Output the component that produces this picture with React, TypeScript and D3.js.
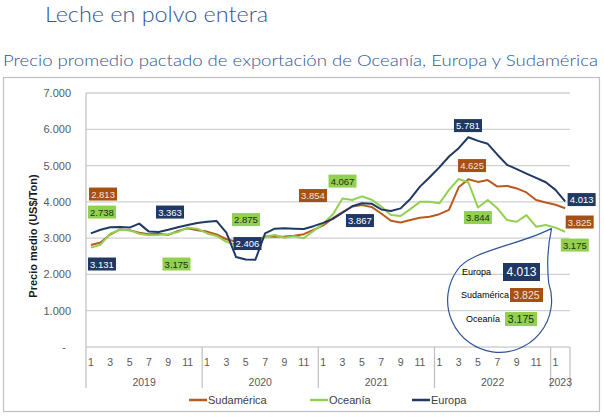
import React from 'react';
import * as d3 from 'd3';

// ---------- data ----------
const years = ['2019', '2020', '2021', '2022', '2023'];
const monthsPerYear = [12, 12, 12, 12, 2];
const monthTickLabels = ['1', '3', '5', '7', '9', '11'];

const europa = [
  3131, 3230, 3300, 3310, 3290, 3400, 3180, 3170, 3230, 3300, 3360, 3420,
  3450, 3470, 3150, 2480, 2410, 2406, 3130, 3260, 3270, 3260, 3250, 3330,
  3420, 3530, 3700, 3880, 3960, 3950, 3790, 3750, 3820, 4080, 4420, 4680,
  4950, 5250, 5480, 5781, 5680, 5600, 5300, 5020, 4900, 4780, 4660, 4540,
  4330, 4013,
];
const sudamerica = [
  2813, 2880, 3100, 3240, 3220, 3150, 3110, 3120, 3090, 3200, 3270, 3220,
  3180, 3100, 2970, 2910, 2885, 2900, 3050, 3040, 3045, 3066, 3110, 3230,
  3350, 3550, 3720, 3870, 3910, 3860, 3680, 3480, 3430, 3500, 3560, 3590,
  3660, 3780, 4400, 4625, 4550, 4600, 4420, 4440, 4370, 4260, 4050, 3980,
  3920, 3825,
];
const oceania = [
  2738, 2820, 3120, 3230, 3220, 3120, 3080, 3090, 3110, 3170, 3290, 3260,
  3130, 3060, 2900, 2815, 2720, 2810, 3040, 3085, 3010, 3050, 3000, 3200,
  3400, 3650, 4090, 4050, 4150, 4060, 3870, 3640, 3610, 3800, 4000, 4000,
  3960, 4330, 4630, 4540, 3844, 4050, 3821, 3499, 3452, 3636, 3315, 3361,
  3290, 3175,
];
const yTicks = [0, 1000, 2000, 3000, 4000, 5000, 6000, 7000];
const yTickLabels = ['-', '1.000', '2.000', '3.000', '4.000', '5.000', '6.000', '7.000'];

const seriesKeys = ['sud', 'oce', 'eur'];
const seriesNames = ['Sudamérica', 'Oceanía', 'Europa'];

// data labels: [series, text, category position, value position]
const labelSeries = ['sud', 'oce', 'eur', 'eur', 'oce', 'oce', 'eur', 'sud', 'oce', 'eur', 'eur', 'sud', 'oce', 'eur', 'sud', 'oce'];
const labelTexts = ['2.813', '2.738', '3.131', '3.363', '3.175', '2.875', '2.406', '3.854', '4.067', '3.867', '5.781', '4.625', '3.844', '4.013', '3.825', '3.175'];
const labelAt = [1.26, 1.15, 1.15, 8.18, 8.85, 16.03, 16.18, 22.95, 26.0, 27.8, 38.96, 39.38, 39.99, 50.7, 50.5, 50.0];
const labelVal = [4215, 3719, 2287, 3719, 2287, 3512, 2851, 4174, 4573, 3485, 6102, 5000, 3567, 4063, 3444, 2810];

// callout bubble contents
const calloutNames = ['Europa', 'Sudamérica', 'Oceanía'];
const calloutKeys = ['eur', 'sud', 'oce'];
const calloutTexts = ['4.013', '3.825', '3.175'];

// ---------- styles ----------
const lineColor: Record<string, string> = { sud: '#BA5A1E', oce: '#92D050', eur: '#203864' };
const boxColor: Record<string, string> = { sud: '#A84F12', oce: '#92D050', eur: '#1F3864' };
const boxText: Record<string, string> = { sud: '#F2E4DA', oce: '#1E2E12', eur: '#FFFFFF' };
const FONT = '"Liberation Sans", Arial, sans-serif';
const TITLE_FONT = 'Lato, "Open Sans", sans-serif';

export default function App() {
  const categories: string[] = [];
  const yearStart: number[] = [];
  years.forEach((yr, yi) => {
    yearStart.push(categories.length);
    for (let m = 1; m <= monthsPerYear[yi]; m++) categories.push(`${yr}-${m}`);
  });

  const x = d3.scaleBand<string>().domain(categories).range([86, 570]).padding(0);
  const y = d3.scaleLinear().domain([0, 7000]).range([347, 93]);
  const step = x.step();
  const x0 = x.range()[0];
  const xAt = (i: number) => x0 + (i + 0.5) * step;
  const cx = (c: string) => (x(c) as number) + step / 2;

  const data: Record<string, number[]> = { sud: sudamerica, oce: oceania, eur: europa };
  const line = d3.line<number>().x((_, i) => cx(categories[i])).y((d) => y(d));

  const axisY = y(0);
  const sepBottom = 388;

  // callout geometry (anchored on Oceanía line near the end)
  const tipX = xAt(47.6);
  const tipY = y(3270);
  const ccx = tipX - 52;
  const ccy = tipY + 72;
  const r = 52;
  const a1 = (215 * Math.PI) / 180;
  const a2 = (-19 * Math.PI) / 180;
  const p1 = [ccx + r * Math.cos(a1), ccy + r * Math.sin(a1)];
  const p2 = [ccx + r * Math.cos(a2), ccy + r * Math.sin(a2)];
  const bubblePath = `M${tipX},${tipY} C${tipX - 32},${tipY + 17} ${p1[0] + 12},${p1[1] - 20} ${p1[0]},${p1[1]} A${r},${r} 0 1 0 ${p2[0]},${p2[1]} Q${tipX - 6},${tipY + 27} ${tipX},${tipY}`;

  return (
    <svg width={604} height={417} style={{ position: 'absolute', left: 0, top: 0, background: '#fff' }}>
      <rect x={0} y={0} width={604} height={417} fill="#fff" />
      {/* titles */}
      <text x={45} y={22} fontFamily={TITLE_FONT} fontWeight={300} fontSize={21.5} fill="#2F5597" textLength={223} lengthAdjust="spacingAndGlyphs">
        Leche en polvo entera
      </text>
      <text x={3} y={66} fontFamily={TITLE_FONT} fontWeight={300} fontSize={15.5} fill="#2F5597" textLength={595} lengthAdjust="spacingAndGlyphs">
        Precio promedio pactado de exportación de Oceanía, Europa y Sudamérica
      </text>
      {/* chart frame */}
      <rect x={3.5} y={77.5} width={596} height={334} fill="none" stroke="#BFBFBF" strokeWidth={1.2} />

      {/* gridlines */}
      {yTicks.map((t) => (
        <line key={t} x1={86} x2={570} y1={y(t)} y2={y(t)} stroke="#D0D0D0" strokeWidth={1.3} />
      ))}
      <line x1={86} x2={86} y1={y(7000)} y2={sepBottom} stroke="#BFBFBF" strokeWidth={1.2} />
      {/* y tick labels */}
      {yTicks.map((t, i) => (
        <text key={'yl' + t} x={t === 0 ? 66 : 71} y={y(t) + 4} textAnchor="end" fontFamily={FONT} fontSize={11} fill="#595959">
          {yTickLabels[i]}
        </text>
      ))}
      <text transform={`translate(37,236) rotate(-90)`} textAnchor="middle" fontFamily={FONT} fontWeight="bold" fontSize={11} fill="#1a1a1a">
        Precio medio (US$/Ton)
      </text>

      {/* x axis */}
      {yearStart.map((s, yi) => {
        const left = x(categories[s]) as number;
        const right = left + monthsPerYear[yi] * step;
        return (
          <g key={years[yi]}>
            <line x1={right} x2={right} y1={axisY} y2={sepBottom} stroke="#BFBFBF" strokeWidth={1.2} />
            <text x={(left + right) / 2} y={386} textAnchor="middle" fontFamily={FONT} fontSize={10.5} fill="#595959">
              {years[yi]}
            </text>
            {monthTickLabels
              .filter((m) => +m <= monthsPerYear[yi])
              .map((m) => (
                <text key={m} x={cx(`${years[yi]}-${m}`)} y={366} textAnchor="middle" fontFamily={FONT} fontSize={10.5} fill="#595959">
                  {m}
                </text>
              ))}
          </g>
        );
      })}

      {/* lines */}
      {seriesKeys.map((k) => (
        <path key={k} d={line(data[k]) || ''} fill="none" stroke={lineColor[k]} strokeWidth={2} strokeLinejoin="round" />
      ))}

      {/* data labels */}
      {labelTexts.map((t, i) => {
        const k = labelSeries[i];
        const lx = xAt(labelAt[i]);
        const ly = y(labelVal[i]);
        return (
          <g key={'lab' + i}>
            <rect x={lx - 14} y={ly - 6.5} width={28} height={13} fill={boxColor[k]} />
            <text x={lx} y={ly + 3.5} textAnchor="middle" fontFamily={FONT} fontSize={9.5} fill={boxText[k]}>
              {t}
            </text>
          </g>
        );
      })}

      {/* callout bubble */}
      <path d={bubblePath} fill="none" stroke="#2F5597" strokeWidth={1.2} />
      {calloutNames.map((n, i) => {
        const k = calloutKeys[i];
        const rowY = [272, 295, 319][i];
        const nameX = [462, 461, 466][i];
        const bx = [503, 510, 505][i];
        const bw = [37, 33, 32][i];
        const bh = [18, 14, 14][i];
        const fs = [12, 10.5, 10.5][i];
        return (
          <g key={'co' + i}>
            <text x={nameX} y={rowY + 3} fontFamily={FONT} fontSize={9} fill="#000">
              {n}
            </text>
            <rect x={bx} y={rowY - bh / 2} width={bw} height={bh} fill={boxColor[k]} />
            <text x={bx + bw / 2} y={rowY + fs * 0.36} textAnchor="middle" fontFamily={FONT} fontSize={fs} fill={boxText[k]}>
              {calloutTexts[i]}
            </text>
          </g>
        );
      })}

      {/* legend */}
      {seriesKeys.map((k, i) => {
        const lx = [189, 310, 412][i];
        return (
          <g key={'lg' + k}>
            <line x1={lx} x2={lx + 18} y1={400} y2={400} stroke={lineColor[k]} strokeWidth={2.5} />
            <text x={lx + 19} y={404} fontFamily={FONT} fontSize={11} fill="#404040">
              {seriesNames[i]}
            </text>
          </g>
        );
      })}
    </svg>
  );
}
